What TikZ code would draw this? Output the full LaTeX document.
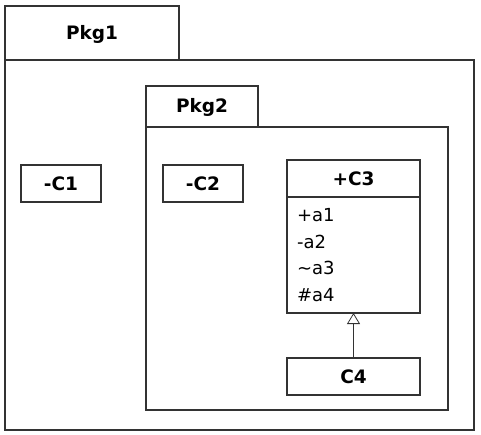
\documentclass[tikz,border=0pt]{standalone}
\usepackage{fontspec}
\setmainfont{DejaVu Sans}
\usetikzlibrary{arrows.meta,positioning}

\tikzset{
  pkgline/.style={draw=black!80,line width=1.2pt},
  pkgname/.style={font=\fontsize{18.5}{21}\selectfont\bfseries},
  clsbox/.style={draw=black!80,line width=1.2pt,minimum height=37pt,inner sep=0pt,outer sep=0pt,font=\fontsize{18.5}{21}\selectfont\bfseries},
  attrbox/.style={draw=black!80,line width=1.2pt,minimum width=133pt,minimum height=116pt,text width=113pt,inner sep=0pt,outer sep=0pt,align=left,font=\fontsize{18}{26.5}\selectfont},
}

\begin{document}
\begin{tikzpicture}[x=1pt,y=-1pt,>=Stealth]
\useasboundingbox (0,0) rectangle (481,435);
% package Pkg1
\draw[pkgline] (5,6) rectangle (179,60);
\draw[pkgline] (5,60) rectangle (474,430);
\node[pkgname] (pkg1) at (92,34) {Pkg1};
% package Pkg2
\draw[pkgline] (146,86) rectangle (258,127);
\draw[pkgline] (146,127) rectangle (448,410);
\node[pkgname] (pkg2) at (202,107) {Pkg2};
% classes
\node[clsbox,minimum width=80pt] (c1) at (61,183.5) {-C1};
\node[clsbox,minimum width=80pt] (c2) at (203,183.5) {-C2};
\node[clsbox,minimum width=133pt] (c3) at (353.5,178.5) {+C3};
\node[attrbox,below=0pt of c3] (c3attr) {+a1\\-a2\\\textasciitilde a3\\\#a4};
\node[clsbox,minimum width=133pt] (c4) at (353.5,376.5) {C4};
% generalization
\draw[-{Triangle[open,length=11pt,width=13pt]},draw=black!80,line width=0.8pt] (c4) -- (c3attr);
\end{tikzpicture}
\end{document}
